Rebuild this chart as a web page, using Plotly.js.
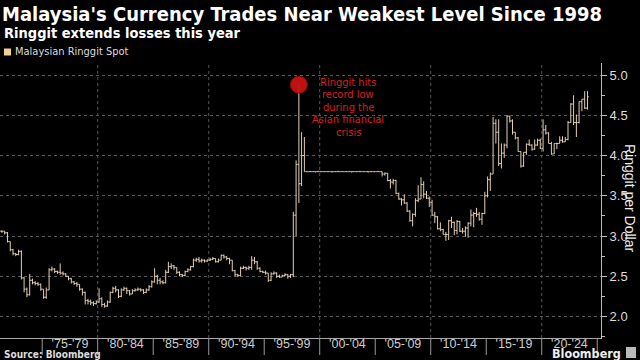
<!DOCTYPE html>
<html>
<head>
<meta charset="utf-8">
<script src="https://cdn.plot.ly/plotly-3.0.1.min.js"></script>
<style>html,body{margin:0;padding:0;background:#000;}#chart{width:640px;height:360px;}</style>
</head>
<body>
<div id="chart"></div>
<script>
// Quarterly OHLC of USD/MYR, first bar = 1971 Q1
const startYear = 1971;
const open = [
 3.07,3.06,3.06,3.04, 2.93,2.83,2.78,2.77, 2.81,2.48,2.34,2.27, 2.45,2.42,2.41,2.40,
 2.34,2.24,2.33,2.58, 2.59,2.56,2.55,2.54, 2.53,2.50,2.47,2.43, 2.41,2.40,2.34,2.30,
 2.20,2.19,2.17,2.16, 2.18,2.22,2.15,2.13, 2.18,2.30,2.35,2.33, 2.25,2.33,2.35,2.32,
 2.28,2.32,2.33,2.34, 2.33,2.30,2.33,2.37, 2.43,2.50,2.45,2.43, 2.42,2.55,2.62,2.63,
 2.61,2.55,2.52,2.51, 2.56,2.58,2.62,2.70, 2.71,2.69,2.70,2.69, 2.70,2.71,2.72,2.68,
 2.70,2.76,2.74,2.72, 2.70,2.57,2.52,2.51, 2.60,2.61,2.60,2.61, 2.70,2.68,2.60,2.56,
 2.55,2.54,2.45,2.53, 2.54,2.50,2.49,2.51, 2.52,2.50,2.52,3.26, 3.89,3.65,4.00,3.80,
 3.80,3.80,3.80,3.80, 3.80,3.80,3.80,3.80, 3.80,3.80,3.80,3.80, 3.80,3.80,3.80,3.80,
 3.80,3.80,3.80,3.80, 3.80,3.80,3.80,3.80, 3.80,3.80,3.80,3.77, 3.78,3.69,3.67,3.69,
 3.53,3.46,3.45,3.41, 3.31,3.19,3.27,3.44, 3.46,3.64,3.52,3.47, 3.42,3.26,3.24,3.09,
 3.08,3.02,3.02,3.19, 3.17,3.07,3.18,3.06, 3.06,3.10,3.16,3.26, 3.28,3.27,3.21,3.28,
 3.50,3.70,3.77,4.40, 4.29,3.90,4.03,4.13, 4.49,4.43,4.29,4.22, 4.05,3.87,4.04,4.14,
 4.13,4.08,4.13,4.19, 4.09,4.32,4.28,4.15, 4.02,4.15,4.15,4.19, 4.17,4.20,4.41,4.64,
 4.41,4.41,4.67,4.70, 4.59
];
const high = [
 3.07,3.07,3.06,3.05, 2.93,2.84,2.79,2.83, 2.82,2.49,2.36,2.53, 2.47,2.44,2.43,2.41,
 2.34,2.36,2.60,2.62, 2.60,2.57,2.66,2.56, 2.54,2.50,2.48,2.44, 2.43,2.40,2.35,2.31,
 2.22,2.21,2.19,2.20, 2.35,2.24,2.17,2.20, 2.31,2.37,2.38,2.34, 2.35,2.37,2.36,2.33,
 2.34,2.35,2.36,2.35, 2.34,2.35,2.39,2.45, 2.60,2.52,2.48,2.45, 2.58,2.68,2.66,2.64,
 2.61,2.56,2.53,2.57, 2.60,2.63,2.72,2.73, 2.74,2.72,2.71,2.71, 2.73,2.74,2.72,2.72,
 2.77,2.77,2.75,2.73, 2.70,2.58,2.53,2.62, 2.63,2.62,2.63,2.75, 2.74,2.69,2.61,2.57,
 2.57,2.54,2.55,2.56, 2.55,2.52,2.52,2.54, 2.53,2.53,3.30,3.94, 4.88,4.29,4.23,3.80,
 3.80,3.80,3.80,3.81, 3.80,3.80,3.80,3.80, 3.80,3.80,3.81,3.80, 3.80,3.80,3.80,3.80,
 3.80,3.80,3.81,3.80, 3.80,3.80,3.80,3.80, 3.80,3.80,3.80,3.79, 3.78,3.71,3.71,3.70,
 3.54,3.47,3.52,3.42, 3.32,3.28,3.47,3.63, 3.73,3.68,3.56,3.49, 3.45,3.30,3.25,3.17,
 3.09,3.05,3.20,3.24, 3.18,3.20,3.19,3.10, 3.12,3.17,3.33,3.30, 3.35,3.30,3.29,3.55,
 3.74,3.79,4.48,4.45, 4.45,4.15,4.15,4.50, 4.49,4.45,4.29,4.23, 4.05,4.04,4.15,4.20,
 4.14,4.20,4.21,4.21, 4.45,4.38,4.29,4.17, 4.15,4.16,4.24,4.24, 4.23,4.43,4.65,4.75,
 4.51,4.67,4.70,4.80, 4.80
];
const low = [
 3.05,3.04,3.02,2.92, 2.81,2.76,2.75,2.76, 2.46,2.30,2.24,2.26, 2.40,2.39,2.38,2.32,
 2.22,2.22,2.33,2.56, 2.54,2.53,2.52,2.51, 2.49,2.45,2.41,2.39, 2.37,2.32,2.26,2.15,
 2.15,2.14,2.13,2.15, 2.17,2.12,2.11,2.12, 2.17,2.29,2.30,2.23, 2.24,2.32,2.28,2.26,
 2.28,2.31,2.32,2.31, 2.28,2.29,2.32,2.36, 2.42,2.40,2.40,2.40, 2.41,2.54,2.59,2.58,
 2.53,2.50,2.49,2.50, 2.55,2.57,2.61,2.68, 2.67,2.67,2.67,2.68, 2.69,2.70,2.67,2.67,
 2.70,2.72,2.70,2.65, 2.56,2.50,2.49,2.50, 2.59,2.57,2.58,2.58, 2.65,2.58,2.55,2.54,
 2.52,2.43,2.44,2.52, 2.48,2.48,2.49,2.50, 2.47,2.48,2.49,3.00, 3.41,3.62,3.80,3.80,
 3.80,3.80,3.79,3.80, 3.80,3.80,3.80,3.80, 3.79,3.80,3.80,3.80, 3.80,3.80,3.80,3.79,
 3.80,3.80,3.80,3.80, 3.80,3.79,3.80,3.80, 3.80,3.80,3.74,3.75, 3.68,3.59,3.64,3.52,
 3.45,3.38,3.40,3.30, 3.18,3.12,3.24,3.42, 3.46,3.47,3.46,3.36, 3.25,3.16,3.08,3.06,
 3.02,2.94,2.95,3.10, 3.01,3.02,3.05,3.03, 2.99,2.98,3.12,3.11, 3.24,3.19,3.14,3.27,
 3.48,3.56,3.77,4.15, 3.87,3.84,3.97,4.09, 4.41,4.26,4.20,4.05, 3.85,3.86,4.01,4.12,
 4.06,4.07,4.12,4.08, 4.05,4.26,4.15,4.01, 4.02,4.08,4.15,4.16, 4.17,4.19,4.41,4.38,
 4.23,4.40,4.55,4.58, 4.57
];
const close = [
 3.06,3.06,3.04,2.93, 2.83,2.78,2.77,2.81, 2.48,2.34,2.27,2.45, 2.42,2.41,2.40,2.34,
 2.24,2.33,2.58,2.59, 2.56,2.55,2.54,2.53, 2.50,2.47,2.43,2.41, 2.40,2.34,2.30,2.20,
 2.19,2.17,2.16,2.18, 2.22,2.15,2.13,2.18, 2.30,2.35,2.33,2.25, 2.33,2.35,2.32,2.28,
 2.32,2.33,2.34,2.33, 2.30,2.33,2.37,2.43, 2.50,2.45,2.43,2.42, 2.55,2.62,2.63,2.61,
 2.55,2.52,2.51,2.56, 2.58,2.62,2.70,2.71, 2.69,2.70,2.69,2.70, 2.71,2.72,2.68,2.70,
 2.76,2.74,2.72,2.70, 2.57,2.52,2.51,2.60, 2.61,2.60,2.61,2.70, 2.68,2.60,2.56,2.55,
 2.54,2.45,2.53,2.54, 2.50,2.49,2.51,2.52, 2.50,2.52,3.26,3.89, 3.65,4.00,3.80,3.80,
 3.80,3.80,3.80,3.80, 3.80,3.80,3.80,3.80, 3.80,3.80,3.80,3.80, 3.80,3.80,3.80,3.80,
 3.80,3.80,3.80,3.80, 3.80,3.80,3.80,3.80, 3.80,3.80,3.77,3.78, 3.69,3.67,3.69,3.53,
 3.46,3.45,3.41,3.31, 3.19,3.27,3.44,3.46, 3.64,3.52,3.47,3.42, 3.26,3.24,3.09,3.08,
 3.02,3.02,3.19,3.17, 3.07,3.18,3.06,3.06, 3.10,3.16,3.26,3.28, 3.27,3.21,3.28,3.50,
 3.70,3.77,4.40,4.29, 3.90,4.03,4.13,4.49, 4.43,4.29,4.22,4.05, 3.87,4.04,4.14,4.13,
 4.08,4.13,4.19,4.09, 4.32,4.28,4.15,4.02, 4.15,4.15,4.19,4.17, 4.20,4.41,4.64,4.41,
 4.41,4.67,4.70,4.59, 4.73
];
const tickLabels = ["'75-'79","'80-'84","'85-'89","'90-'94","'95-'99","'00-'04","'05-'09","'10-'14","'15-'19","'20-'24"];
const labelStartYears = [1975,1980,1985,1990,1995,2000,2005,2010,2015,2020];
const gridYears = [1980,1990,2000,2010,2020];

// quarter mid dates (categories)
const qMid = ['02-15','05-15','08-15','11-15'];
const dates = close.map((_, i) => (startYear + Math.floor(i / 4)) + '-' + qMid[i % 4]);

const BAR = '#e2cfb5';
const RED = '#d42020';
const NARROW = "'Liberation Sans Narrow', 'DejaVu Sans Condensed', 'Liberation Sans', sans-serif";
const SANS = "'Liberation Sans', Arial, sans-serif";

// peak marker from data
let iMax = 0;
high.forEach((v, i) => { if (v > high[iMax]) iMax = i; });

const traces = [
  {
    type: 'ohlc', x: dates, open: open, high: high, low: low, close: close,
    increasing: {line: {color: BAR, width: 1}},
    decreasing: {line: {color: BAR, width: 1}},
    tickwidth: 0.5, hoverinfo: 'skip', name: 'Malaysian Ringgit Spot'
  },
  {
    type: 'scatter', mode: 'markers', x: [dates[iMax]], y: [high[iMax]],
    marker: {size: 17, color: 'rgba(205,20,20,0.92)', line: {color: '#8a0a0a', width: 1}},
    hoverinfo: 'skip'
  }
];

// pixel helpers (plot area: x 0..601, y 63..338)
const L = 0, R = 601, T = 63, B = 338;
const px = x => (x - L) / (R - L);
const py = y => (B - y) / (B - T);

const sepYears = labelStartYears.concat([2025]);
const midVals = labelStartYears.map(y => (y + 2) + '-07-02');

const annotations = [
  {text: 'Ringgit extends losses this year', xref: 'paper', yref: 'paper', x: px(2), y: py(33),
   xanchor: 'left', yanchor: 'middle', showarrow: false,
   font: {family: NARROW, size: 14.5, color: '#ffffff', weight: 700}},
  {text: 'Malaysian Ringgit Spot', xref: 'paper', yref: 'paper', x: px(13), y: py(52),
   xanchor: 'left', yanchor: 'middle', showarrow: false,
   font: {family: NARROW, size: 11, color: '#dddddd'}},
  {text: 'Source: Bloomberg', xref: 'paper', yref: 'paper', x: px(2), y: py(354),
   xanchor: 'left', yanchor: 'middle', showarrow: false,
   font: {family: NARROW, size: 10, color: '#dddddd', weight: 700}},
  {text: 'Bloomberg', xref: 'paper', yref: 'paper', x: px(623), y: py(353),
   xanchor: 'right', yanchor: 'middle', showarrow: false,
   font: {family: NARROW, size: 12.5, color: '#eeeeee', weight: 700}},
  {text: 'Ringgit per Dollar', xref: 'paper', yref: 'paper', x: px(630), y: py(198),
   xanchor: 'center', yanchor: 'middle', showarrow: false, textangle: 90,
   font: {family: SANS, size: 14, color: '#eeeeee'}}
];
const redLines = ['Ringgit hits', 'record low', 'during the', 'Asian financial', 'crisis'];
const redY = [82, 94.5, 107, 119.5, 132];
redLines.forEach((t, k) => annotations.push({
  text: t, xref: 'paper', yref: 'paper', x: px(348), y: py(redY[k]),
  xanchor: 'center', yanchor: 'middle', showarrow: false,
  font: {family: NARROW, size: 11, color: RED}
}));

const shapes = gridYears.map(y => ({
  type: 'line', xref: 'x', yref: 'paper', x0: y + '-01-01', x1: y + '-01-01', y0: 0, y1: 1,
  line: {color: '#555555', width: 1, dash: 'dot'}, layer: 'below'
}));
// category separators below the axis
sepYears.forEach(y => shapes.push({
  type: 'line', xref: 'x', yref: 'paper', x0: y + '-01-01', x1: y + '-01-01', y0: 0, y1: py(355),
  line: {color: '#999999', width: 1}
}));
// legend swatch
shapes.push({type: 'rect', xref: 'paper', yref: 'paper', x0: px(4), x1: px(11), y0: py(55.5), y1: py(48.5),
  fillcolor: '#f2cf93', line: {width: 0}});
// logo icon
shapes.push({type: 'rect', xref: 'paper', yref: 'paper', x0: px(626), x1: px(636), y0: py(358), y1: py(347),
  fillcolor: '#bbbbbb', line: {width: 0}});

const layout = {
  width: 640, height: 360,
  paper_bgcolor: '#000000', plot_bgcolor: '#000000',
  margin: {l: L, r: 640 - R, t: T, b: 360 - B},
  showlegend: false,
  title: {text: "Malaysia's Currency Trades Near Weakest Level Since 1998",
    x: 2 / 640, xanchor: 'left', y: 1 - 14 / 360, yanchor: 'middle',
    font: {family: NARROW, size: 20, color: '#ffffff', weight: 700}},
  xaxis: {
    type: 'date', range: ['1971-03-14', '2025-05-05'],
    rangeslider: {visible: false},
    tickmode: 'array', tickvals: midVals, ticktext: tickLabels, ticks: '',
    ticklabelstandoff: -6,
    tickfont: {family: SANS, size: 12.5, color: '#cccccc'},
    showgrid: false, zeroline: false, showline: true, linecolor: '#aaaaaa', linewidth: 1,
    fixedrange: true
  },
  yaxis: {
    side: 'right', range: [1.733, 5.15],
    tick0: 0, dtick: 0.5, tickformat: '.1f',
    ticks: 'outside', ticklen: 5, tickcolor: '#bbbbbb',
    showline: true, linecolor: '#bbbbbb', linewidth: 1,
    showgrid: true, gridcolor: '#5a5a5a', griddash: 'dot', gridwidth: 1,
    zeroline: false,
    tickfont: {family: SANS, size: 13, color: '#dddddd'},
    minor: {dtick: 0.25, ticks: 'outside', ticklen: 3, tickcolor: '#bbbbbb', showgrid: false},
    fixedrange: true
  },
  annotations: annotations,
  shapes: shapes
};

Plotly.newPlot('chart', traces, layout, {displayModeBar: false, staticPlot: true});
</script>
</body>
</html>
